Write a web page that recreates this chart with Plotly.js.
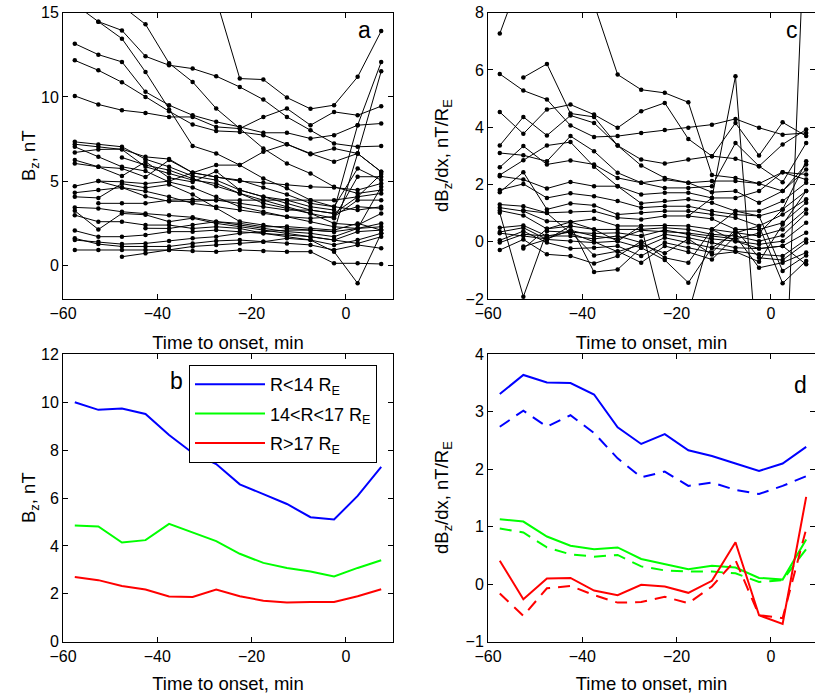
<!DOCTYPE html>
<html><head><meta charset="utf-8">
<script src="https://cdn.plot.ly/plotly-3.0.1.min.js"></script>
<style>html,body{margin:0;padding:0;background:#fff}#chart{width:815px;height:694px}</style>
</head><body><div id="chart"></div>
<script>
// Time to onset (min) at which every curve is sampled
const timeMin = [-57.5, -52.5, -47.5, -42.5, -37.5, -32.5, -27.5, -22.5, -17.5, -12.5, -7.5, -2.5, 2.5, 7.5];

// Panel a: Bz (nT) of individual events
const a01 = [null,null,null,null,null,null,15.8,11.09,11.03,9.96,9.29,9.51,11.19,13.91];
const a02 = [15.5,14.47,13.95,12.41,11.88,11.68,11.23,10.59,9.84,8.81,8.02,7.23,7.04,7.08];
const a03 = [null,14.47,13.46,11.48,9.25,7.09,6.64,5.95,5.16,4.57,3.87,3.48,3.28,3.48];
const a04 = [null,null,15.4,14.31,12.0,10.89,9.31,8.12,6.94,6.05,5.45,4.66,4.27,4.47];
const a05 = [13.16,12.51,12.08,10.30,9.51,8.91,8.52,8.22,7.87,7.87,7.53,7.73,8.32,8.42];
const a06 = [12.17,11.58,10.87,10.0,9.15,8.36,7.98,7.92,7.73,7.19,6.60,6.94,6.64,5.55];
const a07 = [10.06,9.55,9.21,9.05,8.81,8.81,8.22,8.12,8.80,9.31,8.32,9.11,8.91,9.45];
const a08 = [7.33,7.17,7.04,6.30,5.85,5.30,5.06,4.47,4.07,3.68,3.28,3.08,4.07,5.42];
const a09 = [7.19,7.04,6.88,5.85,5.46,5.06,4.86,4.27,3.87,3.48,3.08,2.79,5.26,5.26];
const a10 = [7.04,6.44,5.85,5.60,4.95,4.62,4.07,3.48,3.18,2.89,2.59,2.29,2.19,2.49];
const a11 = [6.70,6.88,6.90,6.44,6.31,5.50,5.24,5.06,4.62,4.20,3.68,3.48,5.75,5.06];
const a12 = [6.25,5.85,5.30,6.15,5.20,4.95,5.58,4.47,4.07,3.87,3.48,3.28,8.32,12.07];
const a13 = [6.05,5.85,5.75,5.24,6.25,5.50,5.24,5.00,4.90,4.78,4.66,4.62,4.47,4.86];
const a14 = [4.70,5.00,4.96,4.85,5.00,5.50,5.95,5.95,6.74,7.19,6.64,6.15,6.64,5.55];
const a15 = [4.31,4.47,4.62,4.10,3.80,3.80,3.87,3.68,3.48,3.28,3.28,3.08,3.48,3.38];
const a16 = [4.07,4.00,4.85,4.60,4.80,4.20,3.40,2.60,2.39,2.19,2.09,2.00,6.64,11.52];
const a17 = [null,3.68,3.68,3.68,3.87,3.91,3.87,3.87,3.87,3.87,3.87,3.87,4.07,4.27];
const a18 = [3.44,3.38,3.18,3.08,2.98,2.85,2.59,2.39,2.19,2.00,1.90,1.70,2.19,2.29];
const a19 = [3.24,2.13,3.08,3.00,2.59,2.80,2.49,2.29,2.09,1.90,1.70,1.50,2.00,2.09];
const a20 = [2.98,2.59,2.59,2.39,2.39,2.19,2.29,2.19,1.90,1.70,1.50,1.21,1.50,1.90];
const a21 = [2.06,1.70,1.70,1.80,2.00,2.00,2.09,2.00,1.90,1.80,1.70,1.50,1.30,1.70];
const a22 = [1.60,1.26,1.12,1.12,1.12,1.30,1.45,1.50,1.40,1.30,1.21,0.91,1.21,1.01];
const a23 = [1.50,1.40,1.26,1.30,1.45,1.60,1.70,1.90,2.00,2.09,2.09,2.00,2.19,4.66];
const a24 = [0.91,0.91,0.91,0.91,0.91,0.85,0.81,0.91,0.85,0.81,0.81,0.12,0.12,0.08];
const a25 = [null,null,0.51,0.71,0.91,1.12,1.21,1.30,1.40,1.60,1.50,0.81,-1.07,1.90];
const a26 = [null,5.00,4.62,4.40,4.07,3.68,3.48,3.28,3.08,2.89,2.79,2.89,3.87,3.87];
const a27 = [null,null,6.40,5.95,5.65,5.15,4.70,4.27,3.68,3.38,3.08,2.49,2.39,3.08];
const a28 = [null,null,null,2.20,2.19,2.40,2.59,2.49,2.29,2.30,2.19,2.09,2.49,2.09];

// Panel c: dBz/dx (nT/RE) of individual events
const c01 = [7.27,9.5,11.0,10.0,8.3,5.84,5.31,5.20,4.87,2.33,2.23,2.03,2.43,2.17];
const c02 = [5.86,5.28,4.97,4.06,3.66,3.69,3.80,3.90,3.98,4.09,4.29,3.98,3.74,3.80];
const c03 = [null,5.74,6.21,4.48,4.36,3.36,2.66,2.23,2.06,1.73,1.77,1.36,1.77,2.70];
const c04 = [4.53,3.77,4.62,4.79,4.44,3.98,4.56,4.85,3.59,2.99,4.15,3.01,4.17,3.69];
const c05 = [3.36,4.36,3.71,4.41,4.15,3.36,2.87,2.73,2.87,2.99,2.90,2.64,3.40,3.92];
const c06 = [3.10,3.02,2.81,3.69,3.16,2.41,2.06,1.88,1.88,1.94,3.45,2.64,2.08,3.45];
const c07 = [2.60,3.34,2.70,2.84,2.70,2.23,2.06,2.17,2.06,2.12,2.12,2.03,1.77,2.52];
const c08 = [2.33,2.85,3.36,3.48,2.62,1.94,1.65,1.71,1.71,1.53,1.53,1.77,2.43,2.35];
const c09 = [2.29,2.17,1.86,2.09,1.94,1.94,1.34,1.42,1.48,1.36,1.07,1.07,1.42,2.06];
const c10 = [1.81,2.02,1.53,1.69,1.59,1.42,1.19,1.24,1.24,1.07,0.95,0.90,1.13,1.77];
const c11 = [1.73,2.43,1.13,1.34,1.27,0.95,1.01,1.07,1.07,0.95,0.84,0.55,0.95,1.48];
const c12 = [1.30,1.24,1.01,1.05,1.07,0.84,0.78,0.90,0.90,0.80,0.43,0.43,0.66,1.36];
const c13 = [1.19,1.07,0.72,0.69,0.80,0.55,0.55,0.57,0.55,0.43,0.31,0.20,0.43,1.13];
const c14 = [1.09,0.92,0.45,0.55,0.43,0.43,0.43,0.49,0.43,0.26,0.20,0.02,0.22,0.99];
const c15 = [1.01,-1.92,0.37,0.34,0.29,0.31,0.20,0.41,0.26,0.10,0.02,-0.09,0.02,0.66];
const c16 = [0.49,0.57,0.20,0.20,0.10,0.20,-0.03,0.26,0.14,-0.03,-0.21,-0.24,-0.15,0.31];
const c17 = [0.34,0.49,0.08,0.02,-0.03,0.02,-0.21,0.14,-0.03,-0.21,-0.33,-0.44,-0.50,0.08];
const c18 = [0.05,0.37,-0.03,-0.24,-0.21,-0.15,-0.50,-0.03,-0.21,-0.38,0.43,-0.56,-0.64,-0.03];
const c19 = [-0.03,0.26,0.20,0.34,-0.48,-0.33,-0.73,-0.15,-0.36,-0.62,0.20,-0.91,-0.73,-0.38];
const c20 = [-0.29,0.08,-0.44,-0.50,-0.76,-0.50,0.01,-0.56,-0.73,0.43,1.07,0.90,-1.02,-0.48];
const c21 = [null,-0.17,0.08,0.55,-1.06,-0.97,-0.21,-0.64,-1.43,-0.21,0.31,0.55,-1.45,-0.67];
const c22 = [null,-0.24,0.45,0.69,0.43,0.02,0.55,-2.74,-2.5,0.43,0.02,-0.24,-0.15,-0.79];
const c23 = [null,null,null,null,null,null,null,null,0.90,1.53,5.78,-4.9,-7.7,12.4];
const c24 = [0.30,0.20,0.10,0.40,0.20,0.10,0.40,0.35,0.30,0.20,0.10,0.30,1.13,2.81];
const c25 = [null,1.10,1.00,0.30,0.00,-0.35,-0.10,-0.40,0.10,-0.45,-0.35,-0.70,0.60,1.77];

// Panel b: mean Bz (nT) by radial distance
const bzNear = [10.0,9.68,9.74,9.51,8.63,7.88,7.42,6.57,6.16,5.75,5.20,5.10,6.09,7.30];
const bzMid  = [4.85,4.81,4.14,4.24,4.92,4.55,4.20,3.67,3.29,3.08,2.93,2.72,3.08,3.40];
const bzFar  = [2.70,2.57,2.33,2.18,1.89,1.87,2.18,1.90,1.71,1.64,1.66,1.66,1.90,2.19];

// Panel d: mean dBz/dx (nT/RE), solid and dashed estimates
const dNearSolid  = [3.31,3.64,3.51,3.50,3.30,2.73,2.44,2.61,2.33,2.23,2.10,1.97,2.10,2.39];
const dNearDashed = [2.74,3.02,2.74,2.94,2.63,2.19,1.86,1.96,1.71,1.77,1.64,1.57,1.71,1.88];
const dMidSolid   = [1.13,1.09,0.83,0.67,0.61,0.64,0.44,0.35,0.26,0.32,0.29,0.11,0.08,0.78];
const dMidDashed  = [0.97,0.90,0.64,0.52,0.48,0.51,0.31,0.24,0.22,0.22,0.19,0.04,0.07,0.61];
const dFarSolid   = [0.41,-0.26,0.10,0.11,-0.11,-0.19,-0.01,-0.04,-0.15,0.06,0.73,-0.54,-0.69,1.52];
const dFarDashed  = [-0.16,-0.55,-0.07,-0.03,-0.19,-0.32,-0.31,-0.22,-0.33,-0.04,0.42,-0.54,-0.59,0.96];

const legendNames = ['R&lt;14 R<sub>E</sub>', '14&lt;R&lt;17 R<sub>E</sub>', 'R&gt;17 R<sub>E</sub>'];
const xTitle = 'Time to onset, min';
const bzTitle = 'B<sub>z</sub>, nT';
const gradTitle = 'dB<sub>z</sub>/dx, nT/R<sub>E</sub>';

const FONT = 'Liberation Sans, Arial, Helvetica, sans-serif';
const BLUE = '#0000ff', GREEN = '#00ff00', RED = '#ff0000';

const aSeries = [a01,a02,a03,a04,a05,a06,a07,a08,a09,a10,a11,a12,a13,a14,a15,a16,a17,a18,a19,a20,a21,a22,a23,a24,a25,a26,a27,a28];
const cSeries = [c01,c02,c03,c04,c05,c06,c07,c08,c09,c10,c11,c12,c13,c14,c15,c16,c17,c18,c19,c20,c21,c22,c23,c24,c25];

const traces = [];
function eventTrace(y, xa, ya) {
  return {x: timeMin, y: y, xaxis: xa, yaxis: ya, type: 'scatter', mode: 'lines+markers',
    line: {color: 'black', width: 1}, marker: {color: 'black', size: 4.5}, showlegend: false, hoverinfo: 'skip'};
}
aSeries.forEach(s => traces.push(eventTrace(s, 'x', 'y')));
cSeries.forEach(s => traces.push(eventTrace(s, 'x2', 'y2')));

[[bzNear, BLUE], [bzMid, GREEN], [bzFar, RED]].forEach((p, i) => {
  traces.push({x: timeMin, y: p[0], xaxis: 'x3', yaxis: 'y3', type: 'scatter', mode: 'lines',
    line: {color: p[1], width: 2}, name: legendNames[i], legendgroup: 'g' + i, showlegend: true});
});
[[dNearSolid, BLUE, 'solid'], [dNearDashed, BLUE, '12px,8px'],
 [dMidSolid, GREEN, 'solid'], [dMidDashed, GREEN, '12px,8px'],
 [dFarSolid, RED, 'solid'], [dFarDashed, RED, '12px,8px']].forEach(p => {
  traces.push({x: timeMin, y: p[0], xaxis: 'x4', yaxis: 'y4', type: 'scatter', mode: 'lines',
    line: {color: p[1], width: 2, dash: p[2]}, showlegend: false});
});

const W = 815, H = 694;
const fx = px => px / W;
const fy = py => 1 - py / H;

function xAxis(domain, range, anchor) {
  return {domain: domain, range: range, anchor: anchor, tickvals: [-60, -40, -20, 0],
    ticks: 'inside', ticklen: 5, tickcolor: 'black', showline: true, linecolor: 'black', linewidth: 1,
    mirror: 'ticks', showgrid: false, zeroline: false, tickfont: {family: FONT, size: 16, color: 'black'},
    title: {text: xTitle, font: {family: FONT, size: 18.5, color: 'black'}, standoff: 14}};
}
function yAxis(domain, range, anchor, tickvals) {
  return {domain: domain, range: range, anchor: anchor, tickvals: tickvals,
    ticks: 'inside', ticklen: 5, tickcolor: 'black', showline: true, linecolor: 'black', linewidth: 1,
    mirror: 'ticks', showgrid: false, zeroline: false, tickfont: {family: FONT, size: 16, color: 'black'}};
}

const yTop = [fy(299), fy(12.7)];
const yBot = [fy(641.7), fy(354.3)];
const leftX = [fx(63), fx(393)];
const rightX = [fx(488), 1];

const panelLabels = [
  {text: 'a', x: fx(364), y: fy(29.5)},
  {text: 'c', x: fx(791.5), y: fy(30)},
  {text: 'b', x: fx(176), y: fy(381)},
  {text: 'd', x: fx(800), y: fy(385)}
].map(a => Object.assign({xref: 'paper', yref: 'paper', xanchor: 'center', yanchor: 'middle',
  showarrow: false, font: {family: FONT, size: 23, color: 'black'}}, a));

const yTitles = [
  {text: bzTitle, x: fx(30), y: fy(156)},
  {text: bzTitle, x: fx(30), y: fy(498)},
  {text: gradTitle, x: fx(443), y: fy(156)},
  {text: gradTitle, x: fx(443), y: fy(498)}
].map(a => Object.assign({xref: 'paper', yref: 'paper', xanchor: 'center', yanchor: 'middle',
  textangle: -90, showarrow: false, font: {family: FONT, size: 18.5, color: 'black'}}, a));

const layout = {
  width: W, height: H, autosize: false,
  margin: {l: 0, r: 0, t: 0, b: 0},
  paper_bgcolor: 'white', plot_bgcolor: 'white',
  font: {family: FONT, color: 'black'},
  xaxis: xAxis(leftX, [-60, 10], 'y'),
  yaxis: yAxis(yTop, [-2, 15], 'x', [0, 5, 10, 15]),
  xaxis2: xAxis(rightX, [-60, 9.37], 'y2'),
  yaxis2: yAxis(yTop, [-2, 8], 'x2', [-2, 0, 2, 4, 6, 8]),
  xaxis3: xAxis(leftX, [-60, 10], 'y3'),
  yaxis3: yAxis(yBot, [0, 12], 'x3', [0, 2, 4, 6, 8, 10, 12]),
  xaxis4: xAxis(rightX, [-60, 9.37], 'y4'),
  yaxis4: yAxis(yBot, [-1, 4], 'x4', [-1, 0, 1, 2, 3, 4]),
  showlegend: true,
  legend: {x: fx(189), y: fy(365), xanchor: 'left', yanchor: 'top', bgcolor: 'white',
    bordercolor: 'black', borderwidth: 1, font: {family: FONT, size: 18, color: 'black'},
    traceorder: 'grouped', tracegroupgap: 3, itemwidth: 70},
  annotations: panelLabels.concat(yTitles)
};

Plotly.newPlot('chart', traces, layout, {staticPlot: true, displayModeBar: false});
</script></body></html>
